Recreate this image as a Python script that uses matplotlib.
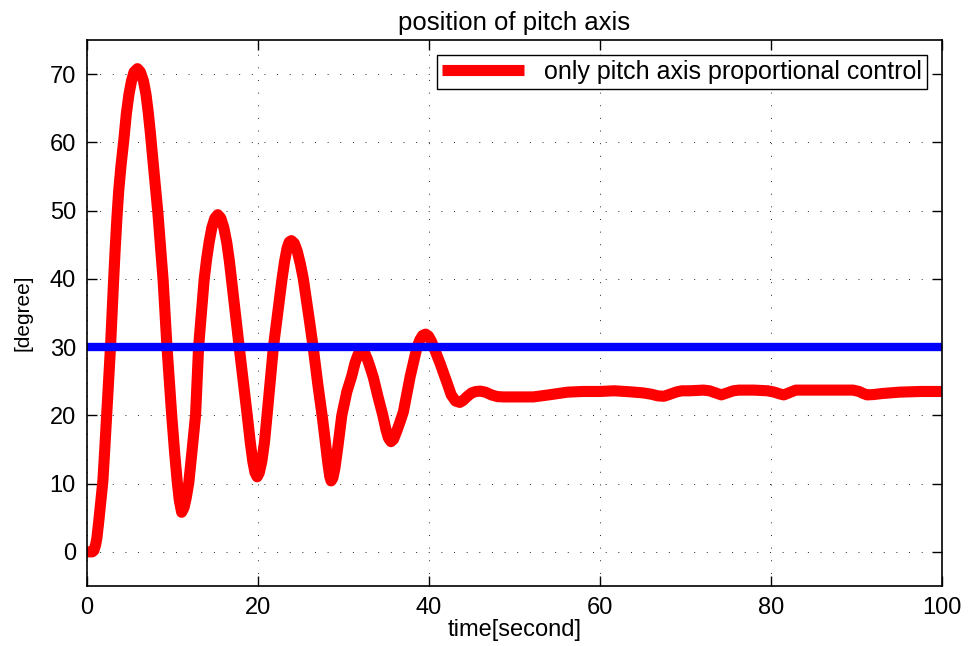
import matplotlib
matplotlib.use("Agg")
import matplotlib.pyplot as plt

plt.rcParams['font.family'] = ['Liberation Sans', 'DejaVu Sans']

# pitch angle response (time in seconds, angle in degrees)
time_s = [0, 0.6, 0.8, 1.0, 1.15, 1.35, 1.6, 1.85, 2.05, 2.3, 2.75, 3.1, 3.3,
          3.5, 3.7, 3.95, 4.3, 4.6, 4.9, 5.2, 5.5, 5.9, 6.25, 6.6, 6.9, 7.15,
          7.4, 7.85, 8.3, 8.9, 9.35, 9.9, 10.25, 10.55, 10.8, 11.07, 11.35,
          11.6, 11.9, 12.3, 12.7, 13.05, 13.7, 14.0, 14.3, 14.6, 14.95, 15.3,
          15.65, 16.0, 16.35, 16.65, 16.9, 17.8, 18.75, 19.1, 19.4, 19.65,
          19.9, 20.15, 20.45, 20.75, 21.05, 21.8, 22.8, 23.1, 23.4, 23.65,
          23.9, 24.25, 24.6, 24.95, 25.3, 25.65, 26.0, 26.45, 27.0, 27.55,
          27.95, 28.2, 28.4, 28.55, 28.75, 29.0, 29.35, 29.8, 30.4, 30.95,
          31.35, 31.7, 32.1, 32.45, 32.8, 33.15, 33.5, 34.0, 34.6, 34.95,
          35.25, 35.55, 35.85, 36.2, 36.6, 37.0, 37.8, 38.6, 38.95, 39.25,
          39.6, 39.95, 40.3, 40.8, 41.3, 42.1, 42.6, 43.1, 43.6, 44.0, 44.5,
          45.0, 45.5, 46.0, 46.6, 47.3, 48.0, 48.7, 50.0, 52.2, 54.0, 56.2,
          58.0, 60.0, 61.7, 63.5, 65.0, 66.0, 66.8, 67.5, 68.2, 69.0, 69.6,
          70.5, 72.1, 72.8, 73.5, 74.2, 74.9, 75.6, 76.25, 78.0, 79.6, 80.4,
          81.0, 81.5, 82.1, 82.9, 86.0, 89.6, 90.3, 90.8, 91.25, 92.0, 93.0,
          95.0, 97.5, 100]
pitch_deg = [0, 0, 0.2, 1.0, 2.0, 4.2, 7.3, 10.3, 14.5, 20.1, 30.1, 39.5, 44.5,
             49.0, 52.8, 56.3, 60.3, 64.2, 67.0, 69.0, 70.3, 70.8, 70.3, 69.0, 67.0, 64.5,
             61.5, 55.5, 49.5, 39.8, 30.1, 20.1, 14.5, 10.3, 7.5, 5.8, 6.5,
             7.9, 10.1, 15.0, 20.1, 30.0, 39.9, 43.0, 45.5, 47.5, 48.9, 49.4,
             48.9, 47.5, 45.3, 42.6, 39.9, 30.0, 19.9, 16.0, 13.2, 11.6,
             11.0, 11.6, 13.3, 16.0, 19.9, 30.0, 39.9, 42.5, 44.5, 45.4,
             45.6, 45.2, 44.0, 42.2, 40.0, 37.0, 34.0, 30.0, 24.5, 19.5,
             15.3, 12.7, 11.0, 10.4, 10.8, 12.3, 15.5, 20.0, 23.5, 25.7,
             27.7, 28.9, 29.6, 29.2, 28.2, 26.9, 25.5, 22.9, 20.0, 18.0,
             16.7, 16.15, 16.5, 17.6, 19.0, 20.5, 25.7, 30.0, 31.1, 31.7,
             31.9, 31.6, 30.8, 29.2, 27.6, 24.8, 23.0, 22.1, 21.9, 22.2, 22.8,
             23.3, 23.5, 23.55, 23.4, 23.0, 22.75, 22.7, 22.7, 22.7, 23.0, 23.4,
             23.5, 23.5, 23.6, 23.45, 23.3, 23.1, 22.85, 22.8, 23.1, 23.45, 23.6,
             23.6, 23.7, 23.6, 23.3, 23.0, 23.3, 23.6, 23.7, 23.7, 23.6, 23.4,
             23.15, 23.0, 23.3, 23.7, 23.7, 23.7, 23.5, 23.2, 23.0, 23.05, 23.2,
             23.4, 23.5, 23.5]

# reference pitch command
ref_time = [0, 100]
ref_deg = [30, 30]

fig = plt.figure(figsize=(9.68, 6.46), dpi=100)
ax = fig.add_axes([0.0899, 0.0929, 0.8832, 0.8452])

ax.plot(time_s, pitch_deg, color=(1, 0, 0), lw=8, solid_joinstyle='round',
        solid_capstyle='butt', label='only pitch axis proportional control')
ax.plot(ref_time, ref_deg, color=(0, 0, 1), lw=6, solid_capstyle='butt')

ax.set_xlim(0, 100)
ax.set_ylim(-5, 75)
ax.set_xticks([0, 20, 40, 60, 80, 100])
ax.set_yticks([0, 10, 20, 30, 40, 50, 60, 70])

ax.grid(True, color='k', linestyle=(0, (1, 12)), lw=0.7, alpha=0.85)
ax.tick_params(direction='in', length=7, width=1, top=True, right=True,
               labelsize=17, pad=8)
for sp in ax.spines.values():
    sp.set_linewidth(1.2)

ax.set_title('position of pitch axis', fontsize=18.5, pad=7)
ax.set_xlabel('time[second]', fontsize=17, labelpad=0)
ax.set_ylabel('[degree]', fontsize=15, labelpad=12)

leg = ax.legend(loc='upper right', fontsize=18, fancybox=False, framealpha=1,
                edgecolor='k', handlelength=3.3, borderaxespad=0.6,
                borderpad=0.2, handletextpad=0.8)
leg.get_frame().set_linewidth(1.0)

fig.savefig('out.png', dpi=100)
